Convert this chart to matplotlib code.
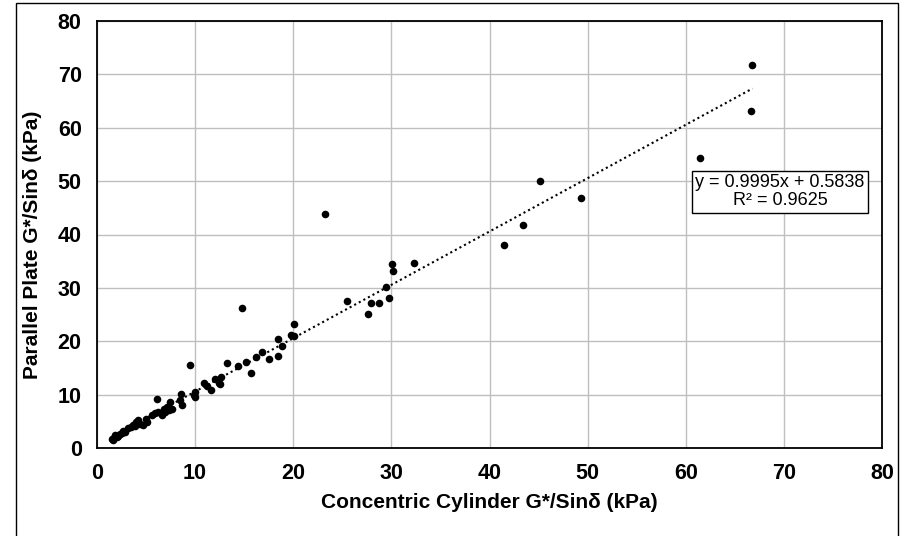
import matplotlib
matplotlib.use("Agg")
import matplotlib.pyplot as plt
from matplotlib.patches import Rectangle
import numpy as np

# Data (kPa)
cc = [66.8, 66.6, 61.5, 45.1, 49.3, 43.4, 41.5, 32.3, 30.1, 30.2, 29.5, 29.8,
      28.7, 27.9, 27.6, 25.5, 23.2, 14.8, 20.1, 19.8, 20.1, 18.9, 18.4, 18.4,
      17.5, 16.8, 16.2, 15.7, 15.2, 14.4, 13.2, 12.6, 12.0, 12.4, 12.5, 11.6,
      11.2, 10.9, 10.0, 9.9, 10.0, 9.5, 8.6, 8.5, 8.7, 6.1, 6.8, 7.1, 7.3,
      7.6, 7.4, 6.9, 6.6, 6.2, 5.9, 5.6, 5.1, 4.7, 4.4, 4.0, 3.7, 3.5, 3.2,
      2.9, 2.7, 2.5, 2.3, 2.1, 1.8, 1.7, 1.5, 1.6, 2.0, 3.9, 4.2, 5.0]
pp = [71.7, 63.2, 54.4, 50.1, 46.8, 41.7, 38.1, 34.6, 34.5, 33.1, 30.1, 28.1,
      27.1, 27.1, 25.1, 27.5, 43.9, 26.3, 23.3, 21.2, 20.9, 19.2, 20.5, 17.2,
      16.6, 17.9, 17.1, 14.1, 16.2, 15.4, 15.9, 13.3, 12.9, 12.1, 11.9, 10.8,
      11.6, 12.2, 10.5, 10.0, 9.6, 15.6, 10.2, 9.0, 8.1, 9.1, 7.4, 7.7, 7.1,
      7.4, 8.7, 6.8, 6.2, 6.8, 6.5, 6.2, 4.9, 4.3, 4.5, 4.9, 4.3, 3.9, 3.7,
      3.0, 3.1, 2.8, 2.7, 2.2, 2.4, 1.9, 1.6, 1.5, 2.0, 4.1, 5.2, 5.4]

slope = 0.9995
intercept = 0.5838
r2 = 0.9625

x_ticks = [0, 10, 20, 30, 40, 50, 60, 70, 80]
y_ticks = [0, 10, 20, 30, 40, 50, 60, 70, 80]

plt.rcParams['font.family'] = ['Liberation Sans', 'DejaVu Sans']

fig = plt.figure(figsize=(9.09, 5.36), dpi=100)
fig.patches.append(Rectangle((16 / 909, -0.05), (898 - 16) / 909, 1.05 - 3 / 536,
                             transform=fig.transFigure, fill=False,
                             edgecolor='black', linewidth=1.0, clip_on=False))

ax = fig.add_axes([97 / 909, 1 - 448 / 536, (882 - 97) / 909, (448 - 21) / 536])

ax.set_xlim(0, 80)
ax.set_ylim(0, 80)
ax.set_xticks(x_ticks)
ax.set_yticks(y_ticks)
ax.grid(True, color='#bfbfbf', linewidth=1.0)
ax.set_axisbelow(True)
for s in ax.spines.values():
    s.set_linewidth(1.3)
    s.set_color('black')
ax.tick_params(length=0, labelsize=15.5, pad=11)
for lab in ax.get_xticklabels() + ax.get_yticklabels():
    lab.set_fontweight('bold')

ax.scatter(cc, pp, s=30, color='black', zorder=3, linewidths=0)

xs = np.array([min(cc), max(cc)])
ax.plot(xs, slope * xs + intercept, linestyle=(0, (1, 1.5)), color='black',
        linewidth=1.5, zorder=2)

ax.text(69.6, 48.0, f"y = {slope}x + {intercept}\nR² = {r2}", ha='center', va='center',
        fontsize=13, linespacing=1.1,
        bbox=dict(boxstyle='square,pad=0.2', facecolor='white', edgecolor='black',
                  linewidth=1.0), zorder=4)

ax.set_xlabel("Concentric Cylinder G*/Sinδ (kPa)", fontsize=15, fontweight='bold',
              labelpad=6)
ax.set_ylabel("Parallel Plate G*/Sinδ (kPa)", fontsize=15, fontweight='bold')
ax.yaxis.set_label_coords(-(97 - 42) / 785, 0.475)

fig.savefig("out.png", dpi=100)
